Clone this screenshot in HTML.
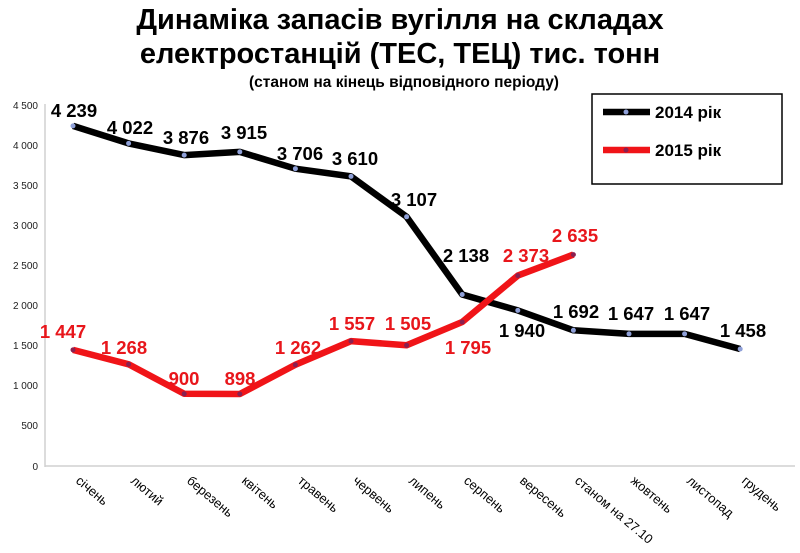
<!DOCTYPE html>
<html><head><meta charset="utf-8"><style>body{margin:0;background:#fff}svg{display:block;font-family:"Liberation Sans",Arial,sans-serif}</style></head><body>
<svg width="800" height="553" viewBox="0 0 800 553">
<text x="400" y="29" text-anchor="middle" font-size="29" font-weight="bold">Динаміка запасів вугілля на складах</text>
<text x="400" y="63" text-anchor="middle" font-size="29" font-weight="bold">електростанцій (ТЕС, ТЕЦ) тис. тонн</text>
<text x="404" y="87" text-anchor="middle" font-size="15.5" font-weight="bold">(станом на кінець відповідного періоду)</text>
<g stroke="#d0d0d0" stroke-width="1.5">
<line x1="45" y1="104" x2="45" y2="467"/><line x1="45" y1="466" x2="795" y2="466"/>
</g>
<g font-size="10" fill="#222" text-anchor="end">
<text x="38" y="109">4 500</text><text x="38" y="149">4 000</text><text x="38" y="189">3 500</text><text x="38" y="229">3 000</text><text x="38" y="269">2 500</text><text x="38" y="309">2 000</text><text x="38" y="349">1 500</text><text x="38" y="389">1 000</text><text x="38" y="429">500</text><text x="38" y="470">0</text>
</g>
<g font-size="13" fill="#000">
<text transform="translate(75,482) rotate(40)">січень</text>
<text transform="translate(130,482) rotate(40)">лютий</text>
<text transform="translate(186,482) rotate(40)">березень</text>
<text transform="translate(241,482) rotate(40)">квітень</text>
<text transform="translate(297,482) rotate(40)">травень</text>
<text transform="translate(352,482) rotate(40)">червень</text>
<text transform="translate(408,482) rotate(40)">липень</text>
<text transform="translate(463,482) rotate(40)">серпень</text>
<text transform="translate(519,482) rotate(40)">вересень</text>
<text transform="translate(574,482) rotate(40)">станом на 27.10</text>
<text transform="translate(630,482) rotate(40)">жовтень</text>
<text transform="translate(686,482) rotate(40)">листопад</text>
<text transform="translate(741,482) rotate(40)">грудень</text>
</g>
<polyline fill="none" stroke="#000" stroke-width="6.5" stroke-linejoin="round" points="73,125.9 128.6,143.4 184.2,155.1 239.8,151.9 295.4,168.7 351,176.4 406.6,216.8 462.2,294.5 517.8,310.4 573.4,330.3 629,333.9 684.6,333.9 740.2,349"/>
<polyline fill="none" stroke="#f01418" stroke-width="6.5" stroke-linejoin="round" points="73,349.9 128.6,364.3 184.2,393.8 239.8,394 295.4,364.8 351,341.1 406.6,345.3 462.2,322 517.8,275.6 573.4,254.6"/>
<g fill="#8fa0d8">
<circle cx="73" cy="125.9" r="2.5"/><circle cx="128.6" cy="143.4" r="2.5"/><circle cx="184.2" cy="155.1" r="2.5"/><circle cx="239.8" cy="151.9" r="2.5"/><circle cx="295.4" cy="168.7" r="2.5"/><circle cx="351" cy="176.4" r="2.5"/><circle cx="406.6" cy="216.8" r="2.5"/><circle cx="462.2" cy="294.5" r="2.5"/><circle cx="517.8" cy="310.4" r="2.5"/><circle cx="573.4" cy="330.3" r="2.5"/><circle cx="629" cy="333.9" r="2.5"/><circle cx="684.6" cy="333.9" r="2.5"/><circle cx="740.2" cy="349" r="2.5"/>
</g>
<g fill="#8a2050">
<circle cx="73" cy="349.9" r="2.5"/><circle cx="128.6" cy="364.3" r="2.5"/><circle cx="184.2" cy="393.8" r="2.5"/><circle cx="239.8" cy="394" r="2.5"/><circle cx="295.4" cy="364.8" r="2.5"/><circle cx="351" cy="341.1" r="2.5"/><circle cx="406.6" cy="345.3" r="2.5"/><circle cx="462.2" cy="322" r="2.5"/><circle cx="517.8" cy="275.6" r="2.5"/><circle cx="573.4" cy="254.6" r="2.5"/>
</g>
<g font-size="18.5" font-weight="bold" fill="#000" text-anchor="middle">
<text x="74" y="117">4 239</text><text x="130" y="134">4 022</text><text x="186" y="144">3 876</text><text x="244" y="139">3 915</text><text x="300" y="160">3 706</text><text x="355" y="165">3 610</text><text x="414" y="206">3 107</text><text x="466" y="262">2 138</text><text x="522" y="337">1 940</text><text x="576" y="318">1 692</text><text x="631" y="320">1 647</text><text x="687" y="320">1 647</text><text x="743" y="337">1 458</text>
</g>
<g font-size="18.5" font-weight="bold" fill="#e8161b" text-anchor="middle">
<text x="63" y="338">1 447</text><text x="124" y="354">1 268</text><text x="184" y="385">900</text><text x="240" y="385">898</text><text x="298" y="354">1 262</text><text x="352" y="330">1 557</text><text x="408" y="330">1 505</text><text x="468" y="354">1 795</text><text x="526" y="262">2 373</text><text x="575" y="242">2 635</text>
</g>
<rect x="592" y="94" width="190" height="90" fill="#fff" stroke="#000" stroke-width="1.5"/>
<line x1="603" y1="112" x2="650" y2="112" stroke="#000" stroke-width="6.5"/><circle cx="626" cy="112" r="2.5" fill="#8fa0d8"/>
<text x="655" y="118" font-size="17" font-weight="bold">2014 рік</text>
<line x1="603" y1="150" x2="650" y2="150" stroke="#f01418" stroke-width="6.5"/><circle cx="626" cy="150" r="2.5" fill="#8a2050"/>
<text x="655" y="156" font-size="17" font-weight="bold">2015 рік</text>
</svg>
</body></html>
